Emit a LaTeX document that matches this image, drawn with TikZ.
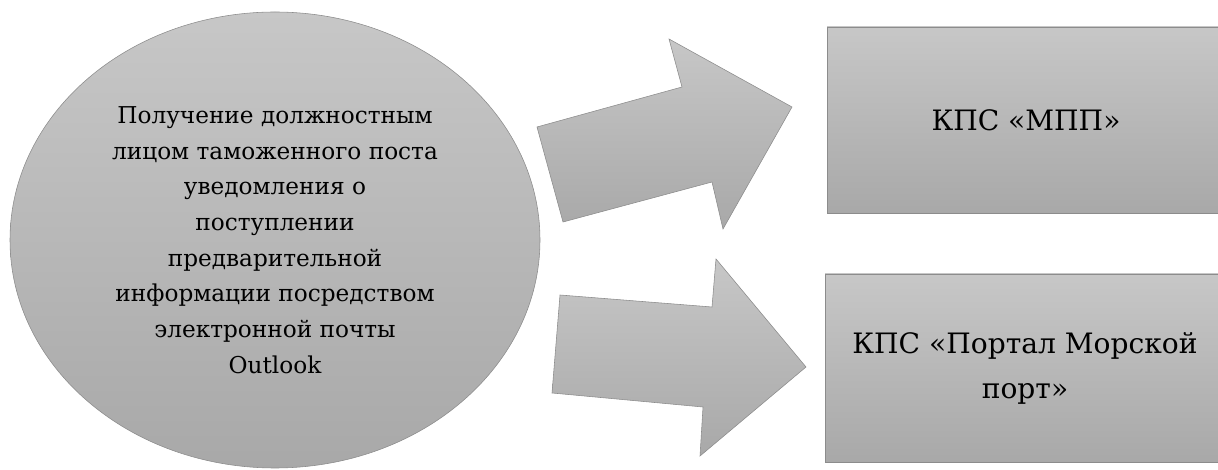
\documentclass[tikz,border=0pt]{standalone}
\usepackage{fontspec}
\setmainfont{DejaVu Serif}
\usetikzlibrary{shapes.geometric}

\begin{document}
\begin{tikzpicture}[x=1cm,y=1cm,
    greyfill/.style={draw=black!45,thin,top color=black!22,bottom color=black!34},
    blockarrow/.style={greyfill,line join=miter}]
    \useasboundingbox (0,0) rectangle (30.45,11.75);

    % Исходное событие.
    \node[greyfill,ellipse,inner sep=0pt,minimum width=13.25cm,
        minimum height=11.4cm,align=center,
        font=\fontsize{16.5}{25.4}\selectfont] (notice) at (6.875,5.75)
        {Получение должностным\\лицом таможенного поста\\уведомления о\\
        поступлении\\предварительной\\информации посредством\\
        электронной почты\\Outlook};

    % Системы.
    \node[greyfill,rectangle,minimum width=9.95cm,minimum height=4.65cm,
        align=center,font=\fontsize{20}{32}\selectfont] (mpp)
        at (25.65,8.75) {КПС «МПП»};
    \node[greyfill,rectangle,minimum width=10cm,minimum height=4.7cm,
        align=center,font=\fontsize{20}{32}\selectfont] (port)
        at (25.625,2.55) {КПС «Портал Морской\\порт»};

    % Стрелки.
    \draw[blockarrow] (14.075,6.2) -- (13.425,8.575) -- (17.05,9.575)
        -- (16.725,10.775) -- (19.8,9.075) -- (18.075,6.025)
        -- (17.8,7.2) -- cycle;
    \draw[blockarrow] (13.8,1.925) -- (14.0,4.375) -- (17.8,4.075)
        -- (17.9,5.275) -- (20.15,2.575) -- (17.5,0.35)
        -- (17.575,1.575) -- cycle;
\end{tikzpicture}
\end{document}
